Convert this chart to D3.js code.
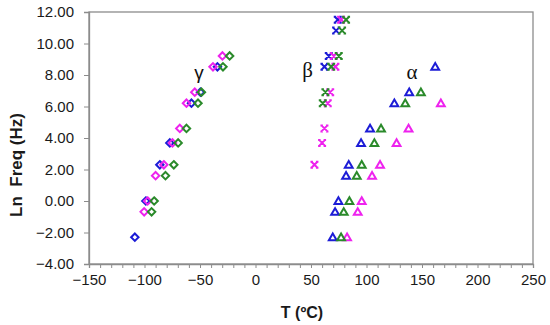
<!DOCTYPE html>
<html><head><meta charset="utf-8">
<script src="https://cdn.jsdelivr.net/npm/d3@7"></script>
<style>body{margin:0;background:#fff}svg{display:block}</style>
</head><body>
<svg id="c" width="550" height="325"></svg>
<script>
// ---- data (T in °C, Ln Freq in Hz) ----
const xTicks = [-150,-100,-50,0,50,100,150,200,250];
const yTicks = [-4,-2,0,2,4,6,8,10,12];

const gammaBlue = [[-108.7,-2.30],[-98.8,0],[-86.2,2.30],[-77.2,3.69],[-57.7,6.21],[-49.6,6.91],[-34.3,8.52]];
const gammaMagenta = [[-100.3,-0.69],[-97.2,0],[-90.0,1.61],[-82.6,2.30],[-74.8,3.69],[-68.2,4.61],[-62.2,6.21],[-54.7,6.91],[-38.3,8.52],[-29.8,9.21]];
const gammaGreen = [[-93.6,-0.69],[-91.3,0],[-81.1,1.61],[-73.6,2.30],[-69.7,3.69],[-62.2,4.61],[-51.8,6.21],[-48.7,6.91],[-29.3,8.52],[-23.3,9.21]];

const betaBlue = [[62.1,8.52],[66.0,9.21],[72.6,10.82],[74.1,11.51]];
const betaMagenta = [[53.1,2.30],[60.0,3.69],[62.1,4.61],[65.1,6.21],[67.3,6.91],[72.0,8.52],[70.5,9.21],[77.1,11.51]];
const betaGreen = [[60.6,6.21],[63.0,6.91],[68.2,8.52],[75.0,9.21],[78.0,10.82],[81.6,11.51]];

const alphaBlue = [[69.6,-2.30],[71.7,-0.69],[74.7,0],[81.6,1.61],[84.0,2.30],[95.1,3.69],[103.2,4.61],[125.1,6.21],[138.5,6.91],[161.9,8.52]];
const alphaMagenta = [[82.5,-2.30],[92.1,-0.69],[95.7,0],[105.0,1.61],[112.2,2.30],[127.1,3.69],[137.9,4.61],[167.0,6.21]];
const alphaGreen = [[77.1,-2.30],[79.5,-0.69],[84.6,0],[91.2,1.61],[95.7,2.30],[107.1,3.69],[113.1,4.61],[134.9,6.21],[149.0,6.91]];

const phaseLabels = [["γ",-51,7.75],["β",47,7.85],["α",141,7.75]];

// ---- layout ----
const blue = "#1c1cd6", magenta = "#ee22ee", green = "#2a8a2a";
const L = 89, R = 533, T = 12, B = 264;
const x = d3.scaleLinear().domain([-150,250]).range([L,R]);
const y = d3.scaleLinear().domain([-4,12]).range([B,T]);
const svg = d3.select("#c");
const axisCol = "#8c8c8c";
const sans = "Liberation Sans, Arial, sans-serif";

// frame
svg.append("rect").attr("x",L).attr("y",T).attr("width",R-L).attr("height",B-T)
  .attr("fill","none").attr("stroke",axisCol).attr("stroke-width",1.3);

// x axis
const xa = svg.append("g").attr("transform",`translate(0,${B})`)
  .call(d3.axisBottom(x).tickValues(d3.range(-150,251,10)).tickSize(4).tickFormat(""));
xa.select(".domain").attr("stroke",axisCol).attr("stroke-width",1.3);
xa.selectAll(".tick line").attr("stroke",axisCol).attr("stroke-width",1);
const xl = svg.append("g").attr("transform",`translate(0,${B})`)
  .call(d3.axisBottom(x).tickValues(xTicks).tickSize(0).tickPadding(10).tickFormat(d3.format("d")));
xl.select(".domain").remove();
xl.selectAll("text").attr("font-family",sans).attr("font-size",15).attr("fill","#1a1a1a");

// y axis
const ya = svg.append("g").attr("transform",`translate(${L},0)`)
  .call(d3.axisLeft(y).tickValues(yTicks).tickSize(5).tickPadding(10).tickFormat(d3.format(".2f")));
ya.select(".domain").attr("stroke",axisCol).attr("stroke-width",1.3);
ya.selectAll(".tick line").attr("stroke",axisCol);
ya.selectAll("text").attr("font-family",sans).attr("font-size",15).attr("fill","#1a1a1a");

// axis titles
svg.append("text").attr("x",302).attr("y",318).attr("text-anchor","middle")
  .attr("font-family",sans).attr("font-weight","bold").attr("font-size",16).attr("fill","#1a1a1a")
  .text("T (ºC)");
svg.append("text").attr("transform",`translate(22,165) rotate(-90)`).attr("text-anchor","middle")
  .attr("font-family",sans).attr("font-weight","bold").attr("font-size",17).attr("fill","#1a1a1a")
  .attr("xml:space","preserve").text("Ln  Freq (Hz)");

// markers
const diamond = "M0,-3.7L3.7,0L0,3.7L-3.7,0Z";
const tri = "M0,-3.7L3.9,3L-3.9,3Z";
const cross = "M-3,-3L3,3M3,-3L-3,3M-4,-3H-1.5M1.5,-3H4M-4,3H-1.5M1.5,3H4";
function draw(data, path, col, sw){
  svg.append("g").selectAll("path").data(data).join("path")
    .attr("transform",d=>`translate(${x(d[0])},${y(d[1])})`)
    .attr("d",path).attr("fill","none").attr("stroke",col).attr("stroke-width",sw);
}
draw(gammaBlue, diamond, blue, 2);
draw(gammaMagenta, diamond, magenta, 2);
draw(gammaGreen, diamond, green, 2);
draw(betaBlue, cross, blue, 2);
draw(betaMagenta, cross, magenta, 2);
draw(betaGreen, cross, green, 2);
draw(alphaBlue, tri, blue, 2);
draw(alphaMagenta, tri, magenta, 2);
draw(alphaGreen, tri, green, 2);

// phase labels
svg.append("g").selectAll("text").data(phaseLabels).join("text")
  .attr("x",d=>x(d[1])).attr("y",d=>y(d[2])).attr("text-anchor","middle")
  .attr("font-family",d=>d[0]==="γ" ? sans : "Liberation Serif, Times New Roman, serif")
  .attr("font-size",d=>d[0]==="γ" ? 19 : 21).attr("fill","#111")
  .text(d=>d[0]);
</script>
</body></html>
